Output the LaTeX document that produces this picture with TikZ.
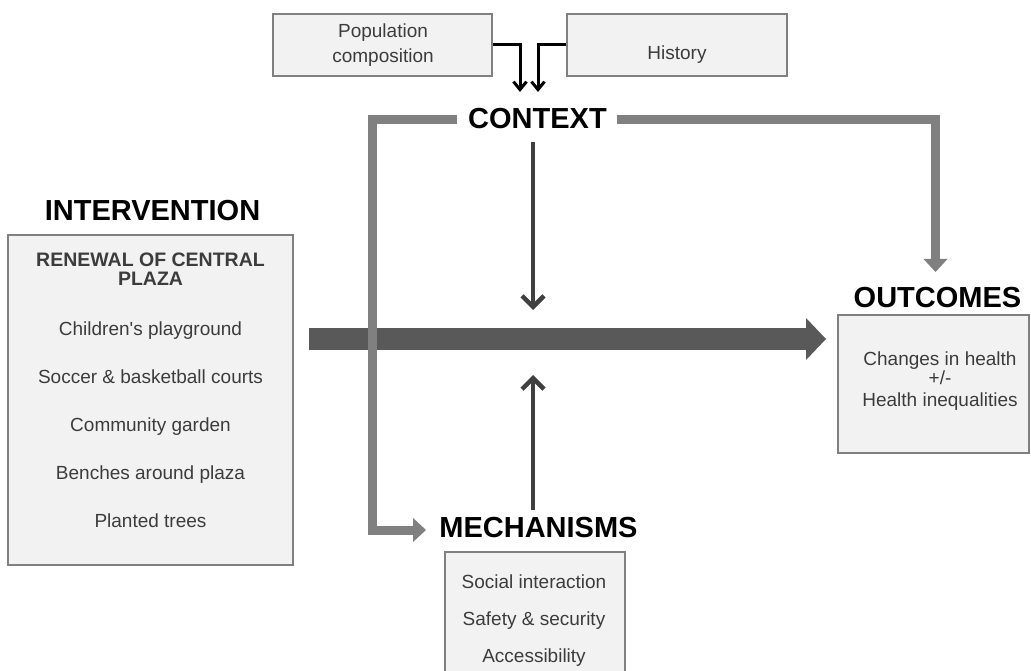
\documentclass[tikz,border=0pt]{standalone}
\usepackage{fontspec}
\setmainfont{Liberation Sans}
\usetikzlibrary{arrows.meta,calc}
\definecolor{boxfill}{HTML}{F2F2F2}
\definecolor{boxline}{HTML}{808080}
\definecolor{txtgray}{HTML}{3C3C3C}
\definecolor{darkarr}{HTML}{404040}
\definecolor{bigarr}{HTML}{595959}
\definecolor{grayarr}{HTML}{808080}
\begin{document}
\begin{tikzpicture}[x=1pt,y=1pt,
  boxstyle/.style={draw=boxline,fill=boxfill,line width=2.8pt,inner sep=0pt},
  bodytext/.style={text=txtgray,font=\fontsize{19}{22}\selectfont,inner sep=0pt,text height=14pt,text depth=4pt,align=center},
  boldtext/.style={text=txtgray,font=\fontsize{19.5}{22}\selectfont\bfseries,inner sep=0pt,text height=14pt,text depth=4pt,align=center},
  header/.style={text=black,font=\fontsize{29}{32}\selectfont\bfseries,inner sep=0pt,text height=21pt,text depth=0pt},
  blackarrow/.style={draw=black,line width=3pt,-{Straight Barb[length=8pt,width=13pt]}},
  darkarrow/.style={draw=darkarr,line width=4.5pt,-{Straight Barb[length=11pt,width=22pt]}},
  grayline/.style={draw=grayarr,line width=9pt},
  grayarrow/.style={draw=grayarr,line width=9pt,-{Triangle[length=13pt,width=24pt,line width=0pt]}},
  bigarrow/.style={draw=bigarr,line width=22pt,-{Triangle[length=20pt,width=42pt,line width=0pt]}}
]
\useasboundingbox (0,0) rectangle (1031,-671);
\fill[white] (0,0) rectangle (1031,-671);

% top boxes
\node[boxstyle,minimum width=219pt,minimum height=62pt] (pop) at (382.5,-45) {};
\node[bodytext] (poptxt1) at (383,-33) {Population};
\node[bodytext] (poptxt2) at (383,-58) {composition};
\node[boxstyle,minimum width=220pt,minimum height=62pt] (hist) at (677,-45) {};
\node[bodytext] (histtxt) at (677,-55) {History};

% headers
\node[header] (ctx) at (537.5,-118) {CONTEXT};
\node[header] (intv) at (152.5,-210) {INTERVENTION};
\node[header] (outc) at (937.5,-297) {OUTCOMES};
\node[header] (mech) at (538.5,-527) {MECHANISMS};

% intervention box
\node[boxstyle,minimum width=285pt,minimum height=330pt] (intbox) at (150.5,-400) {};
\node[boldtext] (i0) at (150.5,-261) {RENEWAL OF CENTRAL};
\node[boldtext] (i0b) at (150.5,-281) {PLAZA};
\node[bodytext] (i1) at (150.5,-330) {Children\textquotesingle s playground};
\node[bodytext] (i2) at (150.5,-378) {Soccer \& basketball courts};
\node[bodytext] (i3) at (150.5,-426) {Community garden};
\node[bodytext] (i4) at (150.5,-474) {Benches around plaza};
\node[bodytext] (i5) at (150.5,-522) {Planted trees};

% outcomes box
\node[boxstyle,minimum width=191pt,minimum height=138pt] (outbox) at (933.5,-384) {};
\node[bodytext] (o1) at (940,-360) {Changes in health};
\node[bodytext] (o2) at (940,-379) {+/-};
\node[bodytext] (o3) at (940,-401) {Health inequalities};

% mechanisms box
\node[boxstyle,minimum width=180pt,minimum height=130pt] (mechbox) at (535,-617) {};
\node[bodytext] (m1) at (534,-583) {Social interaction};
\node[bodytext] (m2) at (534,-620) {Safety \& security};
\node[bodytext] (m3) at (534,-657) {Accessibility};

% coordinates
\coordinate (popin) at (520,-92);
\coordinate (histin) at (538,-92);
\coordinate (ctxdownA) at (533,-142);
\coordinate (ctxdownB) at (533,-310);
\coordinate (mechupA) at (533,-510);
\coordinate (mechupB) at (533,-375);
\coordinate (ctxL) at (457,-119.5);
\coordinate (ctxLcorner) at (372,-119.5);
\coordinate (mechin) at (426,-530);
\coordinate (ctxR) at (617,-119.5);
\coordinate (outin) at (935.5,-272);
\coordinate (bigA) at (309,-339);
\coordinate (bigB) at (826,-339);

% black arrows
\draw[blackarrow] (pop.east) -| (popin);
\draw[blackarrow] (hist.west) -| (histin);

% big arrow
\draw[bigarrow] (bigA) -- (bigB);

% dark arrows
\draw[darkarrow] (ctxdownA) -- (ctxdownB);
\draw[darkarrow] (mechupA) -- (mechupB);

% gray arrows
\draw[grayarrow] (ctxL) -- (ctxLcorner) |- (mechin);
\draw[grayarrow] (ctxR) -| (outin);
\end{tikzpicture}
\end{document}
